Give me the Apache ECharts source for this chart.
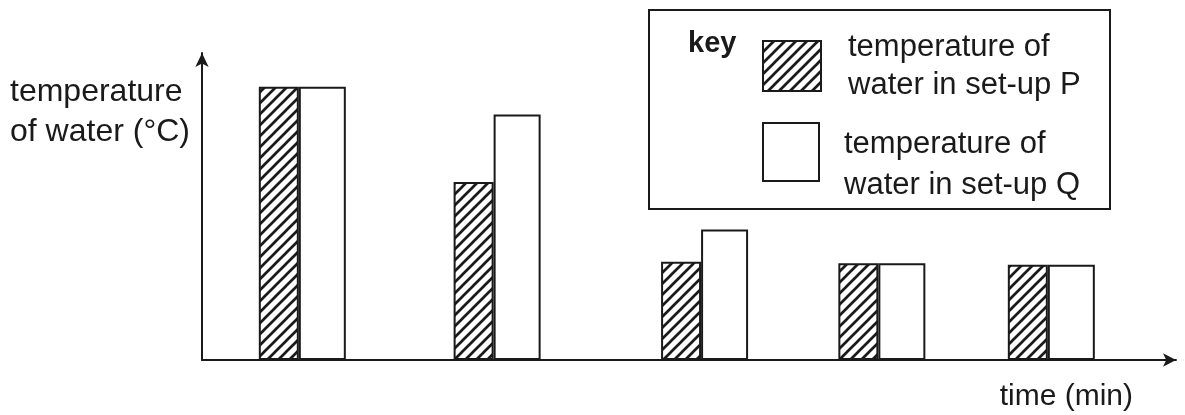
<!DOCTYPE html>
<html><head><meta charset="utf-8">
<script src="https://cdn.jsdelivr.net/npm/echarts@6/dist/echarts.min.js"></script>
<style>html,body{margin:0;padding:0;background:#fff}#chart{width:1185px;height:415px}</style>
</head><body><div id="chart"></div>
<script>
// Data (y in relative temperature units, x in relative time units)
const timeMinutes = [10.3, 30.3, 51.6, 69.8, 87.2];
const tempP = [89, 58, 32, 31.5, 31];
const tempQ = [89, 80, 42.5, 31.5, 31];
const seriesNames = ['temperature of\nwater in set-up P', 'temperature of\nwater in set-up Q'];
const yAxisTitle = 'temperature\nof water (°C)';
const xAxisTitle = 'time (min)';
const keyLabel = 'key';

const INK = '#1a1a1a';
const FONT = '"Liberation Sans", Arial, sans-serif';

function hatch() {
  const s = 11;
  const c = document.createElement('canvas'); c.width = s; c.height = s;
  const g = c.getContext('2d');
  g.fillStyle = '#fff'; g.fillRect(0, 0, s, s);
  g.strokeStyle = INK; g.lineWidth = 2.7;
  g.beginPath();
  g.moveTo(0, s); g.lineTo(s, 0);
  g.moveTo(-s / 2, s / 2); g.lineTo(s / 2, -s / 2);
  g.moveTo(s / 2, s * 1.5); g.lineTo(s * 1.5, s / 2);
  g.stroke();
  return c;
}
const hatchFill = { image: hatch(), repeat: 'repeat' };

const legendText = { fontFamily: FONT, fontSize: 31, color: INK };

const chart = echarts.init(document.getElementById('chart'), null, { renderer: 'canvas' });
chart.setOption({
  animation: false,
  backgroundColor: '#fff',
  grid: { left: 202, right: 9, top: 53, bottom: 55, containLabel: false, outerBoundsMode: 'none' },
  xAxis: {
    type: 'value', min: 0, max: 100,
    name: xAxisTitle, nameLocation: 'end', nameGap: -43,
    nameTextStyle: { fontFamily: FONT, fontSize: 30, color: INK, align: 'right', verticalAlign: 'top', lineHeight: 38, padding: [18, 0, 0, 0] },
    axisLine: { show: true, symbol: ['none', 'arrow'], symbolSize: [10, 13], lineStyle: { color: INK, width: 2 } },
    axisTick: { show: false }, axisLabel: { show: false }, splitLine: { show: false }
  },
  yAxis: {
    type: 'value', min: 0, max: 100,
    axisLine: { show: true, symbol: ['none', 'arrow'], symbolSize: [10, 14], lineStyle: { color: INK, width: 2 } },
    axisTick: { show: false }, axisLabel: { show: false }, splitLine: { show: false }
  },
  legend: [
    {
      orient: 'vertical', left: 762, top: 22, padding: 0,
      itemWidth: 58, itemHeight: 50, icon: 'rect', selectedMode: false,
      textStyle: Object.assign({ lineHeight: 38, padding: [0, 0, 12, 22] }, legendText),
      data: [{ name: seriesNames[0], itemStyle: { color: hatchFill, borderColor: INK, borderWidth: 2 } }]
    },
    {
      orient: 'vertical', left: 762, top: 106, padding: 0,
      itemWidth: 56, itemHeight: 58, icon: 'rect', selectedMode: false,
      formatter: name => '{s| }\n' + name.split('\n').map(l => '{t|' + l + '}').join('\n'),
      textStyle: Object.assign({
        padding: [0, 0, 0, 20],
        rich: {
          s: { fontSize: 10, lineHeight: 26 },
          t: Object.assign({ lineHeight: 41 }, legendText)
        }
      }, legendText),
      data: [{ name: seriesNames[1], itemStyle: { color: '#fff', borderColor: INK, borderWidth: 2 } }]
    }
  ],
  graphic: [
    { type: 'rect', shape: { x: 649, y: 10, width: 461, height: 199 }, style: { fill: 'none', stroke: INK, lineWidth: 2 }, z: 10 },
    { type: 'text', x: 688, y: 44, style: { text: keyLabel, font: 'bold 29px ' + FONT, fill: INK, verticalAlign: 'middle' }, z: 10 },
    { type: 'text', x: 10, y: 72, style: { text: yAxisTitle, font: '32px ' + FONT, fill: INK, lineHeight: 40, align: 'left', verticalAlign: 'top' }, z: 10 }
  ],
  series: [
    {
      type: 'bar', name: seriesNames[0],
      data: timeMinutes.map((t, i) => [t, tempP[i]]),
      barWidth: 40, barGap: '0%',
      itemStyle: { color: hatchFill, borderColor: INK, borderWidth: 2 },
      emphasis: { disabled: true }
    },
    {
      type: 'bar', name: seriesNames[1],
      data: timeMinutes.map((t, i) => [t, tempQ[i]]),
      barWidth: 47, barGap: '0%',
      itemStyle: { color: '#fff', borderColor: INK, borderWidth: 2 },
      emphasis: { disabled: true }
    }
  ]
});
</script>
</body></html>
